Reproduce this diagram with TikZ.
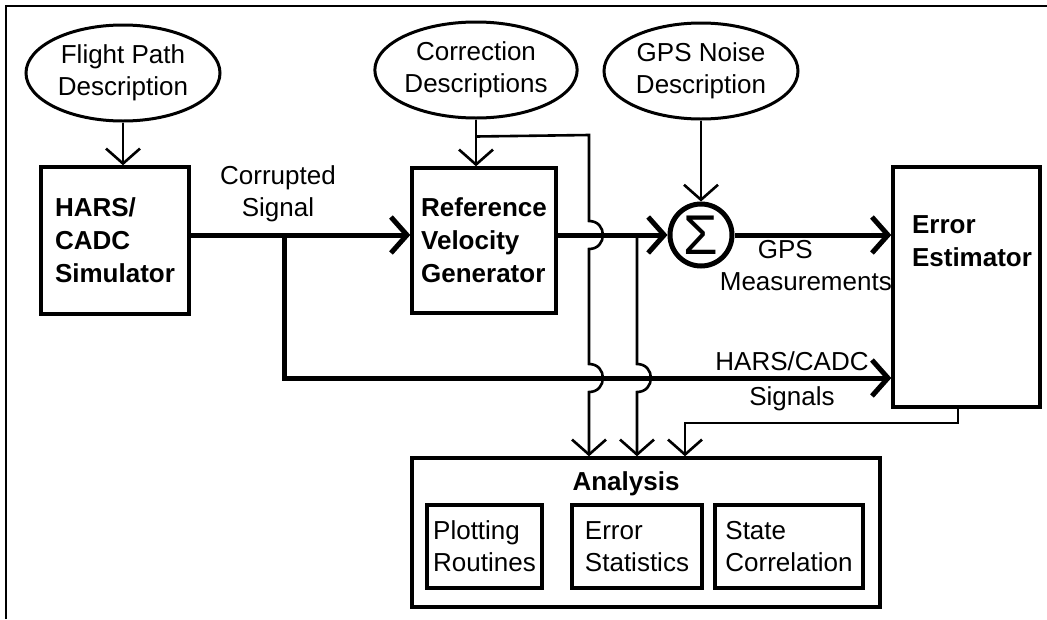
\documentclass[tikz,border=0pt]{standalone}
\usepackage{fontspec}
\setmainfont{Liberation Sans}
\usetikzlibrary{arrows.meta,shapes.geometric,calc}
\tikzset{
  every node/.style={font=\fontsize{26}{32}\selectfont, inner sep=0pt},
  desc/.style={ellipse, draw, line width=3pt, minimum width=194pt, minimum height=96pt, align=center},
  block/.style={draw, line width=3.4pt},
  title/.style={font=\fontsize{26}{33}\selectfont\bfseries, align=left},
  lbl/.style={align=center},
  thinarrow/.style={line width=2.6pt, -{Straight Barb[length=15pt,width=34pt]}},
  bus/.style={line width=5pt, -{Straight Barb[length=16pt,width=36pt]}},
  jump/.style={out=0,in=0,looseness=1.7},
}
\begin{document}
\begin{tikzpicture}[x=1pt,y=-1pt]
\useasboundingbox (0,0) rectangle (1047,619);
% frame
\draw[line width=2.5pt] (6,619) -- (6,6) -- (1047,6);

% description ellipses
\node[desc] (FP) at (123,73) {Flight Path\\Description};
\node[desc] (CD) at (476,70) {Correction\\Descriptions};
\node[desc] (GN) at (701,71) {GPS Noise\\Description};

% blocks
\node[block, minimum width=148pt, minimum height=147pt, title] (HC) at (115,240.5) {HARS/\\CADC\\Simulator};
\node[block, minimum width=144pt, minimum height=145pt, title] (RV) at (484,240.5) {Reference\\Velocity\\Generator};
\node[circle, draw, line width=5pt, minimum size=62pt, font=\fontsize{56}{56}\selectfont] (S) at (701,235) {Σ};
\node[block, minimum width=147pt, minimum height=240pt] (EE) at (966.5,287) {};
\node[title] (EEt) at (972,241) {Error\\Estimator};

% analysis
\node[block, minimum width=468pt, minimum height=149pt] (AN) at (646,532.5) {};
\node[font=\fontsize{26}{32}\selectfont\bfseries] (ANt) at (626,484) {Analysis};
\node[block, line width=3.2pt, minimum width=115pt, minimum height=83pt, align=left] (PR) at (484.5,546.5) {Plotting\\Routines};
\node[block, line width=3.2pt, minimum width=130pt, minimum height=83pt, align=left] (ES) at (637,546.5) {Error\\Statistics};
\node[block, line width=3.2pt, minimum width=148pt, minimum height=83pt, align=left] (SC) at (789,546.5) {State\\Correlation};

% labels
\node[lbl] (CS) at (278,194) {Corrupted\\Signal};
\node[align=left, anchor=east] (GM) at (892,266) {\hspace*{38pt}GPS\\Measurements};
\node[lbl] (HS) at (792,381) {HARS/CADC\\[3pt]Signals};

% junction coordinates
\coordinate (J0) at ($(CD.south)+(0,17)$);
\coordinate (B1) at (589,135);
\coordinate (J1) at (284,235);
\coordinate (J2) at (637,235);
\coordinate (E1) at (958,423);
\coordinate (A3) at ([xshift=39pt]AN.north);

% thin arrows
\draw[thinarrow] (FP.south) -- (FP.south |- HC.north);
\draw[thinarrow] (CD.south) -- (CD.south |- RV.north);
\draw[thinarrow] (GN.south) -- (S.north);

% thick signal lines
\draw[bus] (HC.east |- S) -- (RV.west |- S);
\draw[bus] (RV.east |- S) -- (S.west);
\draw[bus] (S.east) -- (EE.west |- S);
\draw[bus] (J1) |- ([yshift=-91pt]EE.west);

% to analysis with jumps
\draw[thinarrow] (J0) -- (B1) -- (589,221) to[jump] (589,249) -- (589,364) to[jump] (589,392) -- (AN.north -| B1);
\draw[thinarrow] (J2) -- (637,364) to[jump] (637,392) -- (AN.north -| J2);
\draw[thinarrow] (EE.south -| E1) -- (E1) -| (A3);
\end{tikzpicture}
\end{document}
